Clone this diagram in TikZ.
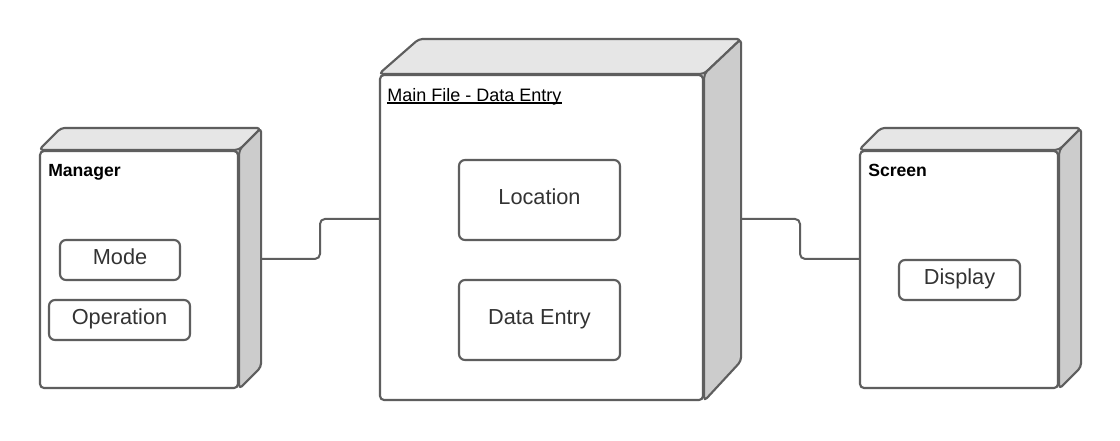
\documentclass[tikz,border=0pt]{standalone}
\usepackage{fontspec}
\setmainfont{Liberation Sans}
\usetikzlibrary{calc,fit}
\definecolor{edge}{HTML}{5E5E5E}
\definecolor{topface}{HTML}{E6E6E6}
\definecolor{sideface}{HTML}{CCCCCC}
\definecolor{inntext}{HTML}{333333}
\begin{document}
\begin{tikzpicture}[x=0.75pt,y=-0.75pt,
  front/.style={draw=edge, fill=white, line width=1.6pt, rounded corners=3pt, inner sep=0pt},
  face/.style={draw=edge, line width=1.6pt, rounded corners=3pt, line join=round},
  inbox/.style={draw=edge, fill=white, line width=1.6pt, rounded corners=4.5pt, inner sep=0pt,
    text=inntext, font=\fontsize{16.3}{19}\selectfont, text height=11.25pt, text depth=5.25pt, align=center},
  lbl/.style={inner sep=0pt, text=black, font=\fontsize{13.2}{16}\selectfont\bfseries},
  mlbl/.style={inner sep=0pt, text=black, font=\fontsize{13.5}{16}\selectfont},
  conn/.style={draw=edge, line width=1.5pt, rounded corners=3.75pt}
]
\useasboundingbox[fill=white] (0,0) rectangle (1120,440);

% Manager node
\node[front, fit={(40,151) (238,388)}] (mgr) {};
\filldraw[face, fill=topface] (mgr.north west) -- ++(22,-22) -- ($(mgr.north east)+(22,-22)$) -- (mgr.north east) -- cycle;
\filldraw[face, fill=sideface] (mgr.north east) -- ++(22,-22) -- ($(mgr.south east)+(22,-22)$) -- (mgr.south east) -- cycle;
\node[lbl, anchor=base west] (mgrlbl) at (48,176) {Manager};
\node[inbox, minimum width=90pt, minimum height=30pt] (mode) at (120,260) {Mode};
\node[inbox, minimum width=105.75pt, minimum height=30pt] (oper) at (119.5,320) {Operation};

% Main node
\node[front, fit={(380,75) (703,400)}] (main) {};
\filldraw[face, fill=topface] (main.north west) -- ++(40,-35) -- ($(main.north east)+(37,-35)$) -- (main.north east) -- cycle;
\filldraw[face, fill=sideface] (main.north east) -- ++(37,-35) -- ($(main.south east)+(37,-40)$) -- (main.south east) -- cycle;
\node[mlbl, anchor=base west] (mainlbl) at (387,101) {Main File - Data Entry};
\draw[line width=0.9pt, black] ($(mainlbl.base west)+(0,2)$) -- ($(mainlbl.base east)+(0,2)$);
\node[inbox, minimum width=120.75pt, minimum height=60pt] (loc) at (539.5,200) {Location};
\node[inbox, minimum width=120.75pt, minimum height=60pt] (dent) at (539.5,320) {Data Entry};

% Screen node
\node[front, fit={(860,151) (1058,388)}] (scr) {};
\filldraw[face, fill=topface] (scr.north west) -- ++(22,-22) -- ($(scr.north east)+(22,-22)$) -- (scr.north east) -- cycle;
\filldraw[face, fill=sideface] (scr.north east) -- ++(22,-22) -- ($(scr.south east)+(22,-22)$) -- (scr.south east) -- cycle;
\node[lbl, anchor=base west] (scrlbl) at (868,176) {Screen};
\node[inbox, minimum width=90.75pt, minimum height=30pt] (disp) at (959.5,280) {Display};

% ports
\coordinate (mgrport) at ($(mgr.north east)+(22,109)$);
\coordinate (mainin) at ($(main.north west)+(0,145)$);
\coordinate (mainout) at ($(main.north east)+(37,145)$);
\coordinate (scrin) at ($(scr.north west)+(0,109)$);

\draw[conn] (mgrport) -| ($(mgrport)!0.5!(mainin)$) |- (mainin);
\draw[conn] (mainout) -| ($(mainout)!0.5!(scrin)$) |- (scrin);
\end{tikzpicture}
\end{document}
